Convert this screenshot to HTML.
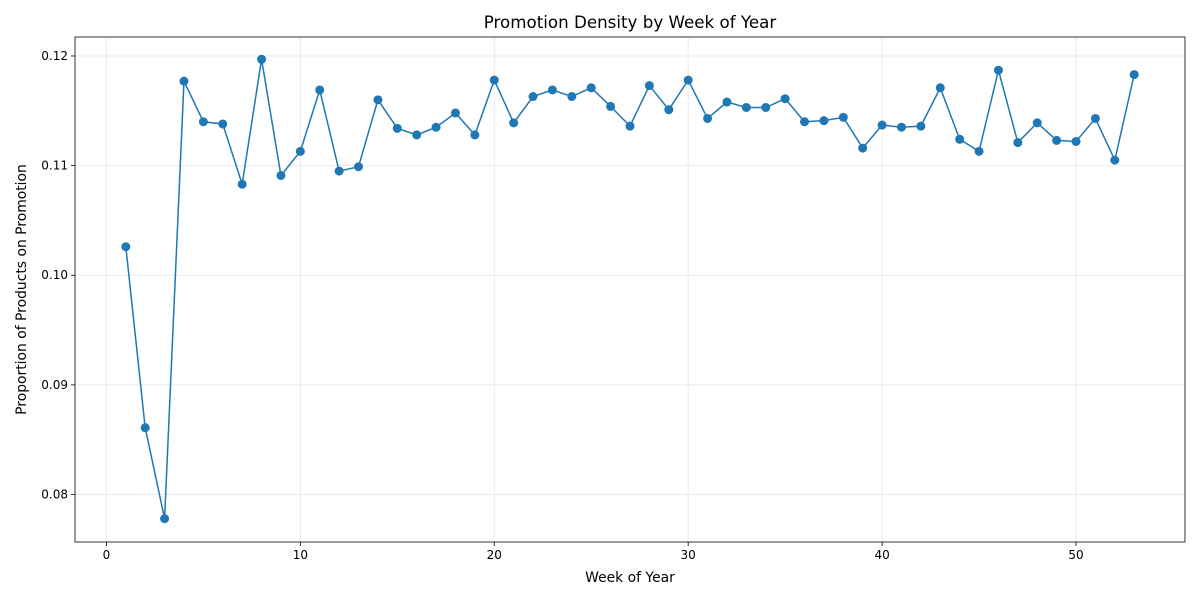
<!DOCTYPE html>
<html><head><meta charset="utf-8"><style>
body{margin:0;background:#fff;}
svg{font-family:"DejaVu Sans","Liberation Sans",sans-serif;}
</style></head><body>
<svg id="chart" width="1200" height="600"></svg>
<script>
const weeks = [];
for (let i = 1; i <= 53; i++) weeks.push(i);
const proportions = [0.1026,0.0861,0.0778,0.1177,0.1140,0.1138,0.1083,0.1197,0.1091,0.1113,
0.1169,0.1095,0.1099,0.1160,0.1134,0.1128,0.1135,0.1148,0.1128,0.1178,
0.1139,0.1163,0.1169,0.1163,0.1171,0.1154,0.1136,0.1173,0.1151,0.1178,
0.1143,0.1158,0.1153,0.1153,0.1161,0.1140,0.1141,0.1144,0.1116,0.1137,
0.1135,0.1136,0.1171,0.1124,0.1113,0.1187,0.1121,0.1139,0.1123,0.1122,
0.1143,0.1105,0.1183];
const xTicks = [0,10,20,30,40,50];
const yTicks = [0.08,0.09,0.10,0.11,0.12];

const L=75,R=1185,T=37,B=542;
const xMin=-1.62,xMax=55.62,yMin=0.07567,yMax=0.12173;
const sx=v=>L+(v-xMin)/(xMax-xMin)*(R-L);
const sy=v=>B-(v-yMin)/(yMax-yMin)*(B-T);
const svg=document.getElementById('chart');
const NS='http://www.w3.org/2000/svg';
function mk(tag,attrs,parent){const e=document.createElementNS(NS,tag);for(const k in attrs)e.setAttribute(k,attrs[k]);(parent||svg).appendChild(e);return e;}

xTicks.forEach(t=>{
  const g=mk('line',{x1:sx(t),x2:sx(t),y1:T,y2:B,stroke:'#e5e5e5','stroke-width':0.8});
  
  
  const tk=mk('line',{x1:sx(t),x2:sx(t),y1:B,y2:B+4,stroke:'#000','stroke-width':0.8});
  
  
  const tx=mk('text',{x:sx(t),y:B+17,'text-anchor':'middle','font-size':12});
  tx.textContent=t;
  
  
});
yTicks.forEach(t=>{
  const g=mk('line',{x1:L,x2:R,y1:sy(t),y2:sy(t),stroke:'#e5e5e5','stroke-width':0.8});
  
  
  const tk=mk('line',{x1:L-4,x2:L,y1:sy(t),y2:sy(t),stroke:'#000','stroke-width':0.8});
  
  
  const tx=mk('text',{x:L-7,y:sy(t)+4,'text-anchor':'end','font-size':12});
  tx.textContent=t.toFixed(2);
  
  
});
const frame=mk('rect',{x:L,y:T,width:R-L,height:B-T,fill:'none',stroke:'#000','stroke-width':0.8});



const pts=weeks.map((w,i)=>sx(w)+','+sy(proportions[i])).join(' ');
const line=mk('polyline',{points:pts,fill:'none',stroke:'#1f77b4','stroke-width':1.5});


weeks.forEach((w,i)=>{
  const c=mk('circle',{cx:sx(w),cy:sy(proportions[i]),r:4.5,fill:'#1f77b4'});
  
  
});

const title=mk('text',{x:(L+R)/2,y:28,'text-anchor':'middle','font-size':16.7});
title.textContent='Promotion Density by Week of Year';


const xl=mk('text',{x:(L+R)/2,y:582,'text-anchor':'middle','font-size':13.9});
xl.textContent='Week of Year';


const yl=mk('text',{x:0,y:0,'text-anchor':'middle','font-size':13.9,transform:`translate(26,${(T+B)/2}) rotate(-90)`});
yl.textContent='Proportion of Products on Promotion';


</script>
</body></html>
